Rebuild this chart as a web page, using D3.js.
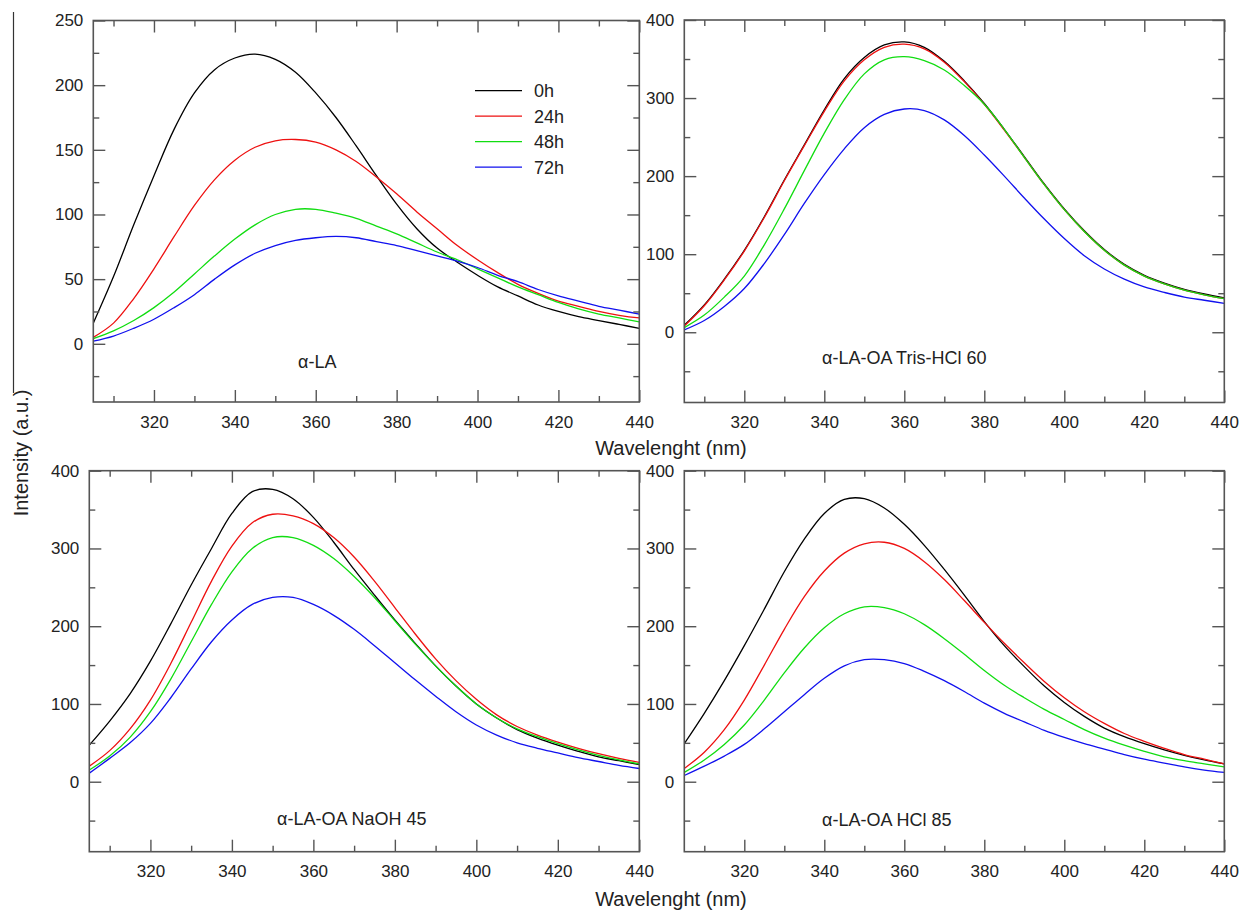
<!DOCTYPE html>
<html>
<head>
<meta charset="utf-8">
<script src="https://cdn.jsdelivr.net/npm/d3@7"></script>
<style>
  html, body { margin: 0; padding: 0; background: #fff; }
  svg { display: block; font-family: "Liberation Sans", Arial, sans-serif; }
</style>
</head>
<body>
<svg id="chart" width="1242" height="911"></svg>
<script>
// ---------------- DATA ----------------
const wavelengths = [305,310,315,320,325,330,335,340,345,350,355,360,365,370,375,380,385,390,395,400,405,410,415,420,425,430,435,440];
const seriesNames = ["0h", "24h", "48h", "72h"];
const seriesColors = ["#000000", "#ee1111", "#11dd11", "#1111ee"];
const xMajorTicks = [320, 340, 360, 380, 400, 420, 440];
const xMinorTicks = [310, 330, 350, 370, 390, 410, 430];

// Panel 1: α-LA
const la_0h  = [16,52,92,130,166,194,212,221,224,220,210,194,175,153,130,108,89,74,63,53,44,37,30,25,21,18,15,12];
const la_24h = [5,16,35,58,83,107,127,142,152,157,158,156,150,141,129,116,102,89,76,65,55,46,39,33,29,25,22,20];
const la_48h = [4,10,18,28,40,54,68,81,92,100,104,104,101,97,91,85,78,71,65,58,51,44,38,32,27,23,20,17];
const la_72h = [2,6,12,19,28,38,50,61,70,76,80,82,83,82,79,76,72,68,64,59,53,48,42,37,33,29,26,23];

// Panel 2: α-LA-OA Tris-HCl 60
const tris_0h  = [9,35,68,105,148,195,240,285,325,352,368,372,365,347,322,293,260,225,190,158,130,106,87,73,63,55,49,44];
const tris_24h = [8,34,67,104,147,194,239,283,322,349,365,369,363,346,321,292,259,224,189,157,129,105,86,72,62,54,48,43];
const tris_48h = [6,22,45,72,112,158,207,255,298,331,349,353,348,336,316,292,260,224,189,157,129,105,86,72,62,54,48,43];
const tris_72h = [3,15,33,56,88,125,165,202,235,262,279,286,284,272,252,227,200,172,145,120,98,81,68,58,51,45,41,37];

// Panel 3: α-LA-OA NaOH 45
const naoh_0h  = [47,78,113,155,203,253,300,345,373,376,364,340,308,273,240,208,178,149,123,100,82,67,56,47,39,32,27,22];
const naoh_24h = [20,40,68,105,152,205,258,303,333,344,342,332,314,289,258,224,190,158,130,106,86,71,60,51,43,36,30,25];
const naoh_48h = [15,33,57,90,132,180,228,270,300,314,314,304,287,264,237,207,177,149,123,100,82,68,58,49,41,34,28,23];
const naoh_72h = [11,30,50,75,108,145,180,208,228,237,237,228,214,196,175,153,131,110,90,73,60,50,43,37,31,26,21,17];

// Panel 4: α-LA-OA HCl 85
const hcl_0h  = [49,88,130,175,222,270,312,345,363,364,352,331,304,273,240,206,175,148,123,102,84,69,58,49,41,34,28,23];
const hcl_24h = [17,38,67,105,150,196,238,271,294,306,308,300,283,260,233,205,178,153,129,108,90,75,62,52,43,35,29,23];
const hcl_48h = [12,28,48,73,105,140,172,198,216,225,224,216,202,184,164,143,124,108,93,80,67,56,47,39,32,27,23,19];
const hcl_72h = [8,20,33,48,68,90,112,133,149,157,157,152,142,130,116,101,88,77,66,57,49,42,35,29,24,19,15,12];

const panelTitles = ["α-LA", "α-LA-OA Tris-HCl 60", "α-LA-OA NaOH 45", "α-LA-OA HCl 85"];
const yTicksA = { major: [0,50,100,150,200,250], minor: [-25,25,75,125,175,225] };
const yTicksB = { major: [0,100,200,300,400], minor: [-50,50,150,250,350] };

// ---------------- LAYOUT ----------------
const svg = d3.select("#chart");
const FRAME = "#555";
const TEXT = "#222";

const panels = [
  { left: 93.3, right: 639.3, top: 20.5, bottom: 402, ydom: [-45, 250], ticks: yTicksA,
    data: [la_0h, la_24h, la_48h, la_72h], title: panelTitles[0], tx: 298, ty: 368, legend: true },
  { left: 684.3, right: 1224.3, top: 20, bottom: 402.5, ydom: [-90, 400], ticks: yTicksB,
    data: [tris_0h, tris_24h, tris_48h, tris_72h], title: panelTitles[1], tx: 822, ty: 364 },
  { left: 89.3, right: 639.3, top: 470.7, bottom: 851.7, ydom: [-90, 400], ticks: yTicksB,
    data: [naoh_0h, naoh_24h, naoh_48h, naoh_72h], title: panelTitles[2], tx: 277, ty: 825 },
  { left: 684.3, right: 1224.3, top: 470.7, bottom: 851.7, ydom: [-90, 400], ticks: yTicksB,
    data: [hcl_0h, hcl_24h, hcl_48h, hcl_72h], title: panelTitles[3], tx: 822, ty: 826 }
];

function styleAxis(sel, showText) {
  sel.select(".domain").remove();
  sel.selectAll(".tick line").attr("stroke", FRAME).attr("stroke-width", 1.4);
  sel.selectAll(".tick text").attr("fill", TEXT).style("font-size", "17px");
  if (!showText) sel.selectAll(".tick text").remove();
}

panels.forEach((p, pi) => {
  const g = svg.append("g");
  const x = d3.scaleLinear().domain([305, 440]).range([p.left, p.right]);
  const y = d3.scaleLinear().domain(p.ydom).range([p.bottom, p.top]);

  const clipId = "clip" + pi;
  g.append("clipPath").attr("id", clipId).append("rect")
    .attr("x", p.left).attr("y", p.top).attr("width", p.right - p.left).attr("height", p.bottom - p.top);

  const line = d3.line()
    .x((d, i) => x(wavelengths[i]))
    .y(d => y(d))
    .curve(d3.curveCatmullRom.alpha(0.5));

  const lg = g.append("g").attr("clip-path", `url(#${clipId})`);
  p.data.forEach((arr, si) => {
    lg.append("path").datum(arr)
      .attr("d", line)
      .attr("fill", "none")
      .attr("stroke", seriesColors[si])
      .attr("stroke-width", 1.3);
  });

  const bx = g.append("g").attr("transform", `translate(0,${p.bottom})`)
    .call(d3.axisBottom(x).tickValues(xMajorTicks).tickSize(-12).tickPadding(13.5).tickFormat(d3.format("d")));
  styleAxis(bx, true);
  const bxm = g.append("g").attr("transform", `translate(0,${p.bottom})`)
    .call(d3.axisBottom(x).tickValues(xMinorTicks).tickSize(-6).tickFormat(""));
  styleAxis(bxm, false);
  const tx = g.append("g").attr("transform", `translate(0,${p.top})`)
    .call(d3.axisTop(x).tickValues(xMajorTicks).tickSize(-12).tickFormat(""));
  styleAxis(tx, false);
  const txm = g.append("g").attr("transform", `translate(0,${p.top})`)
    .call(d3.axisTop(x).tickValues(xMinorTicks).tickSize(-6).tickFormat(""));
  styleAxis(txm, false);

  const ly = g.append("g").attr("transform", `translate(${p.left},0)`)
    .call(d3.axisLeft(y).tickValues(p.ticks.major).tickSize(-12).tickPadding(10).tickFormat(d3.format("d")));
  styleAxis(ly, true);
  const lym = g.append("g").attr("transform", `translate(${p.left},0)`)
    .call(d3.axisLeft(y).tickValues(p.ticks.minor).tickSize(-6).tickFormat(""));
  styleAxis(lym, false);
  const ry = g.append("g").attr("transform", `translate(${p.right},0)`)
    .call(d3.axisRight(y).tickValues(p.ticks.major).tickSize(-12).tickFormat(""));
  styleAxis(ry, false);
  const rym = g.append("g").attr("transform", `translate(${p.right},0)`)
    .call(d3.axisRight(y).tickValues(p.ticks.minor).tickSize(-6).tickFormat(""));
  styleAxis(rym, false);

  g.append("rect")
    .attr("x", p.left).attr("y", p.top)
    .attr("width", p.right - p.left).attr("height", p.bottom - p.top)
    .attr("fill", "none").attr("stroke", FRAME).attr("stroke-width", 1.6);

  g.append("text")
    .attr("x", p.tx).attr("y", p.ty)
    .attr("fill", TEXT).style("font-size", "18px")
    .text(p.title);

  if (p.legend) {
    const legX1 = 475, legX2 = 522, legY0 = 90.7, legDy = 25.5;
    seriesNames.forEach((name, si) => {
      const yy = legY0 + si * legDy;
      g.append("line").attr("x1", legX1).attr("x2", legX2).attr("y1", yy).attr("y2", yy)
        .attr("stroke", seriesColors[si]).attr("stroke-width", 1.3);
      g.append("text").attr("x", 534).attr("y", yy).attr("dy", "0.36em")
        .attr("fill", TEXT).style("font-size", "18px").text(name);
    });
  }
});

svg.append("text").attr("x", 671).attr("y", 455).attr("text-anchor", "middle")
  .attr("fill", TEXT).style("font-size", "20px").text("Wavelenght (nm)");
svg.append("text").attr("x", 671).attr("y", 906).attr("text-anchor", "middle")
  .attr("fill", TEXT).style("font-size", "20px").text("Wavelenght (nm)");
svg.append("text").attr("transform", "translate(28,453) rotate(-90)").attr("text-anchor", "middle")
  .attr("fill", TEXT).style("font-size", "20px").text("Intensity (a.u.)");

svg.append("line").attr("x1", 13.5).attr("x2", 13.5).attr("y1", 12).attr("y2", 393)
  .attr("stroke", "#333").attr("stroke-width", 1.2);
</script>
</body>
</html>
